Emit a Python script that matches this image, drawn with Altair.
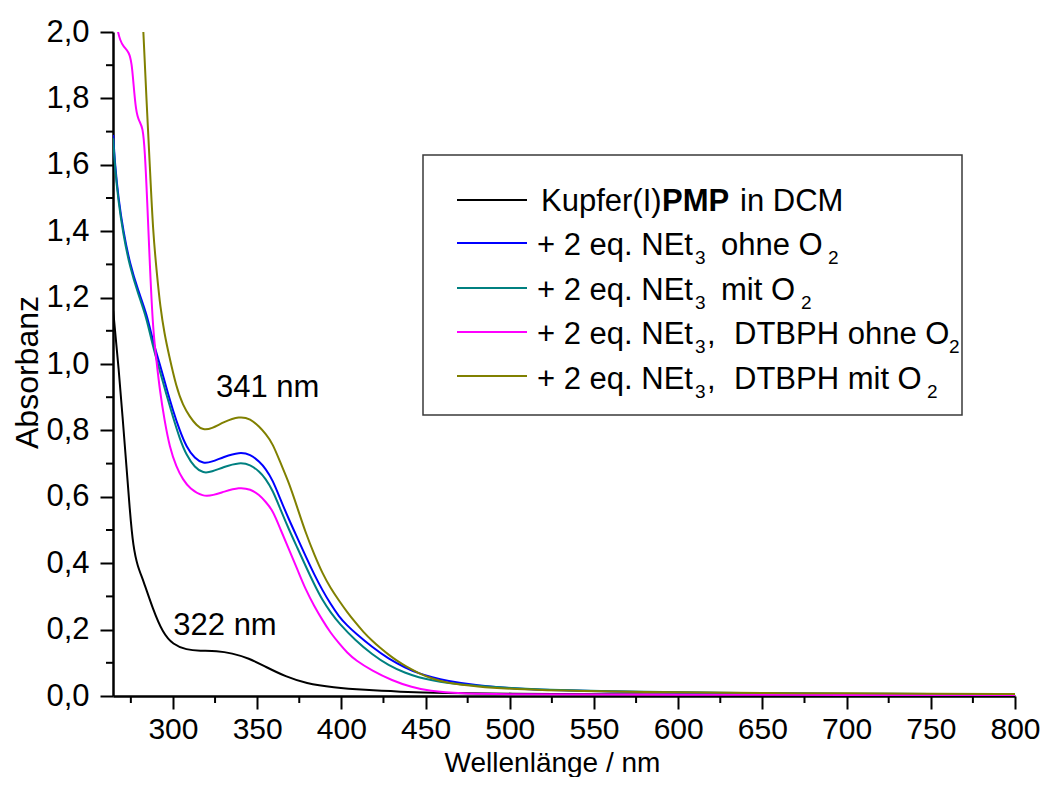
import altair as alt
import pandas as pd

FONT = "Liberation Sans"

# ---------------- data ----------------
series_names = [
    "Kupfer(I)PMP in DCM",
    "+ 2 eq. NEt3 ohne O2",
    "+ 2 eq. NEt3 mit O2",
    "+ 2 eq. NEt3, DTBPH ohne O2",
    "+ 2 eq. NEt3, DTBPH mit O2",
]
series_colors = ["#000000", "#0000ff", "#008080", "#ff00ff", "#808000"]

wl_black = [264.5, 267.6, 271.5, 274.5, 276.4, 279, 282.3, 288.2, 294, 300, 308, 316, 326,
            335, 345, 355, 367, 379, 395, 414, 434, 460, 500, 550, 600, 650, 700, 800]
abs_black = [1.16, 1.00, 0.75, 0.55, 0.45, 0.39, 0.35, 0.26, 0.19, 0.155, 0.139, 0.136, 0.136,
             0.129, 0.114, 0.088, 0.058, 0.038, 0.026, 0.018, 0.013, 0.009, 0.007, 0.005,
             0.004, 0.004, 0.003, 0.002]

wl_blue = [264.5, 265.6, 267.6, 270.5, 274.5, 279.4, 284.5, 288, 292.2, 296, 300, 304, 308,
           313, 318, 323, 330, 339.5, 346, 351.3, 355, 359.2, 364, 369, 374, 378.9, 384,
           388.7, 393.6, 398.6, 403.5, 408.4, 418.3, 428, 438, 446, 454, 462, 481, 501,
           521, 560, 600, 650, 700, 750, 800]
abs_blue = [1.69, 1.60, 1.50, 1.40, 1.30, 1.22, 1.15, 1.07, 1.00, 0.93, 0.86, 0.80, 0.75,
            0.715, 0.70, 0.705, 0.72, 0.735, 0.728, 0.706, 0.685, 0.651, 0.59, 0.53, 0.475,
            0.42, 0.365, 0.319, 0.277, 0.239, 0.212, 0.189, 0.147, 0.112, 0.085, 0.068,
            0.056, 0.046, 0.031, 0.023, 0.018, 0.013, 0.010, 0.008, 0.006, 0.005, 0.004]

wl_teal = [264.5, 265.6, 267.6, 270.5, 274.5, 279.4, 284.3, 288.2, 292.2, 296, 300, 304, 308,
           313, 318, 323, 330, 339.5, 346, 351.3, 355, 359.2, 364, 369, 374, 378.9, 384,
           388.7, 393.6, 398.6, 408.4, 418.3, 428, 438, 446, 454, 462, 481, 501, 521, 560,
           600, 650, 700, 750, 800]
abs_teal = [1.68, 1.59, 1.49, 1.39, 1.29, 1.21, 1.14, 1.05, 0.98, 0.91, 0.84, 0.775, 0.725,
            0.688, 0.671, 0.675, 0.69, 0.704, 0.697, 0.676, 0.655, 0.62, 0.56, 0.50, 0.445,
            0.39, 0.335, 0.289, 0.252, 0.219, 0.167, 0.125, 0.092, 0.069, 0.056, 0.047,
            0.040, 0.030, 0.024, 0.019, 0.014, 0.011, 0.008, 0.007, 0.006, 0.005]

wl_magenta = [265, 267, 268.6, 270.5, 274, 275.5, 276.4, 278, 280, 282, 283.3, 284.7, 286.3,
              288.2, 290, 292.2, 295, 298, 302, 306, 310, 317.8, 324, 330, 339.5, 346, 351.3,
              355, 359.2, 364, 369, 374, 378.9, 384, 388.7, 393.6, 398.6, 403.5, 408.4,
              418.3, 430, 442, 452, 470, 500, 600, 700, 800]
abs_magenta = [2.08, 2.005, 1.976, 1.956, 1.94, 1.905, 1.855, 1.76, 1.73, 1.715, 1.645, 1.494,
               1.293, 1.10, 1.02, 0.92, 0.83, 0.75, 0.69, 0.651, 0.625, 0.60, 0.605, 0.615,
               0.629, 0.623, 0.606, 0.585, 0.56, 0.50, 0.44, 0.38, 0.319, 0.27, 0.229, 0.19,
               0.159, 0.13, 0.108, 0.076, 0.047, 0.026, 0.015, 0.007, 0.005, 0.004, 0.003,
               0.002]

wl_olive = [280, 282.3, 284.3, 286.3, 288.2, 290.5, 292.5, 295, 297.5, 302, 306, 310, 314,
            317.8, 323, 330, 339.5, 346, 351.3, 355, 359.2, 364, 369, 374, 378.9, 384,
            388.7, 393.6, 398.6, 403.5, 408.4, 413, 418.3, 423, 428.1, 433, 438, 446, 454,
            462, 481, 501, 540, 600, 650, 700, 750, 800]
abs_olive = [2.3, 2.005, 1.795, 1.594, 1.394, 1.27, 1.17, 1.09, 1.03, 0.93, 0.875, 0.841,
             0.815, 0.801, 0.805, 0.825, 0.843, 0.835, 0.811, 0.79, 0.761, 0.70, 0.641,
             0.565, 0.49, 0.425, 0.37, 0.325, 0.287, 0.252, 0.221, 0.193, 0.166, 0.145,
             0.124, 0.106, 0.090, 0.068, 0.052, 0.040, 0.028, 0.021, 0.0145, 0.011, 0.009,
             0.008, 0.007, 0.006]

x_major = [300, 350, 400, 450, 500, 550, 600, 650, 700, 750, 800]
x_minor = [275, 325, 375, 425, 475, 525, 575, 625, 675, 725, 775]
y_major = [0.0, 0.2, 0.4, 0.6, 0.8, 1.0, 1.2, 1.4, 1.6, 1.8, 2.0]
y_minor = [0.1, 0.3, 0.5, 0.7, 0.9, 1.1, 1.3, 1.5, 1.7, 1.9]

ann_wl = [325.5, 300.2]
ann_abs = [0.902, 0.184]
ann_text = ["341 nm", "322 nm"]

# ---------------- build table ----------------
all_wl = [wl_black, wl_blue, wl_teal, wl_magenta, wl_olive]
all_abs = [abs_black, abs_blue, abs_teal, abs_magenta, abs_olive]
rows = []
for name, ws, aa in zip(series_names, all_wl, all_abs):
    for w, a in zip(ws, aa):
        rows.append({"wl": w, "A": a, "series": name})
df = pd.DataFrame(rows)

W, H = 902, 664
XDOM = [264.4, 800]

xscale = alt.Scale(domain=XDOM, nice=False, zero=False)
yscale = alt.Scale(domain=[0, 2], nice=False, zero=False)

x_axis = alt.Axis(
    values=x_major, title="Wellenlänge / nm", grid=False,
    labelFont=FONT, labelFontSize=30, labelColor="black", labelBaseline="alphabetic",
    labelPadding=29, labelFlush=False, labelOverlap=False,
    tickSize=13, tickWidth=2, tickColor="black",
    domainColor="black", domainWidth=2.5,
    titleFont=FONT, titleFontSize=28, titleFontWeight="normal", titleColor="black",
    titleX=439, titleY=75, titleBaseline="alphabetic", titleAlign="center",
)
y_axis = alt.Axis(
    values=y_major, title="Absorbanz", grid=False,
    labelExpr="replace(format(datum.value, '.1f'), '.', ',')",
    labelFont=FONT, labelFontSize=31, labelColor="black", labelPadding=11,
    labelOverlap=False, labelFlush=False,
    tickSize=13, tickWidth=2, tickColor="black",
    domainColor="black", domainWidth=2.5,
    titleFont=FONT, titleFontSize=32, titleFontWeight="normal", titleColor="black",
    titleX=-76, titleY=340, titleAngle=270, titleBaseline="alphabetic", titleAlign="center",
)

X = alt.X("wl:Q", scale=xscale, axis=x_axis)
Y = alt.Y("A:Q", scale=yscale, axis=y_axis)

lines = alt.Chart(df).mark_line(clip=True, strokeWidth=2, interpolate="basis").encode(
    x=X, y=Y,
    color=alt.Color("series:N", scale=alt.Scale(domain=series_names, range=series_colors),
                    legend=None),
    detail="series:N",
)

xminor = alt.Chart(pd.DataFrame({"wl": x_minor})).mark_rule(color="black", strokeWidth=2).encode(
    x=X, y=alt.value(H), y2=alt.value(H + 7),
)
yminor = alt.Chart(pd.DataFrame({"A": y_minor})).mark_rule(color="black", strokeWidth=2).encode(
    y=Y, x=alt.value(-7), x2=alt.value(0),
)

ann = alt.Chart(pd.DataFrame({"wl": ann_wl, "A": ann_abs, "t": ann_text})).mark_text(
    align="left", baseline="alphabetic", font=FONT, fontSize=31, color="black"
).encode(x=X, y=Y, text="t:N")

# ---------------- custom legend (pixel layout relative to plot origin) ----------------
OX, OY = 113, 32
one = pd.DataFrame({"a": [0]})

legend_box = alt.Chart(one).mark_rect(fill="white", stroke="#3a3a3a", strokeWidth=1.5).encode(
    x=alt.value(423 - OX), x2=alt.value(962 - OX),
    y=alt.value(155 - OY), y2=alt.value(415 - OY),
)

line_y = [200, 243, 288, 332, 376]
base_y = [211, 255, 300, 344, 389]

legend_layers = [legend_box]
for i, col in enumerate(series_colors):
    legend_layers.append(
        alt.Chart(one).mark_rule(color=col, strokeWidth=2).encode(
            x=alt.value(457 - OX), x2=alt.value(527 - OX),
            y=alt.value(line_y[i] - OY),
        )
    )

LFS = 31
SFS = 19
SUB_DY = 9
# (row, page x, text, kind)
segments = [
    (0, 541, "Kupfer(I)", "n"),
    (0, 662, "PMP", "b"),
    (0, 740, "in DCM", "n"),
    (1, 537, "+ 2 eq. NEt", "n"),
    (1, 695, "3", "s"),
    (1, 721, "ohne O", "n"),
    (1, 828, "2", "s"),
    (2, 537, "+ 2 eq. NEt", "n"),
    (2, 695, "3", "s"),
    (2, 721, "mit O", "n"),
    (2, 801, "2", "s"),
    (3, 537, "+ 2 eq. NEt", "n"),
    (3, 695, "3", "s"),
    (3, 707, ",", "n"),
    (3, 734, "DTBPH ohne O", "n"),
    (3, 949, "2", "s"),
    (4, 537, "+ 2 eq. NEt", "n"),
    (4, 695, "3", "s"),
    (4, 707, ",", "n"),
    (4, 734, "DTBPH mit O", "n"),
    (4, 927, "2", "s"),
]
for row, px, txt, kind in segments:
    size = SFS if kind == "s" else LFS
    dy = SUB_DY if kind == "s" else 0
    weight = "bold" if kind == "b" else "normal"
    legend_layers.append(
        alt.Chart(one).mark_text(
            align="left", baseline="alphabetic", font=FONT, fontSize=size,
            fontWeight=weight, color="black",
        ).encode(
            x=alt.value(px - OX), y=alt.value(base_y[row] + dy - OY), text=alt.value(txt),
        )
    )

chart = alt.layer(lines, xminor, yminor, ann, *legend_layers).properties(
    width=W, height=H,
    autosize=alt.AutoSizeParams(type="none"),
    padding={"left": 105, "top": 24, "right": 25, "bottom": 81},
    background="white",
).configure_view(stroke=None)

chart.save("out.html", embed_options={"renderer": "svg", "actions": False})
